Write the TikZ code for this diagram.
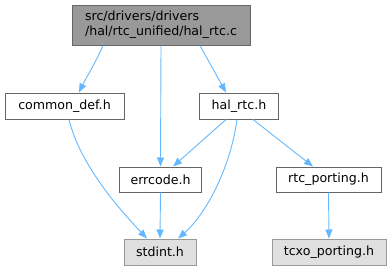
\documentclass[tikz,border=0pt]{standalone}
\usepackage{fontspec}
\setmainfont{DejaVu Sans}
\usetikzlibrary{arrows.meta}
\definecolor{edgec}{HTML}{63B8FF}
\definecolor{bdark}{HTML}{666666}
\definecolor{bgrey}{HTML}{999999}
\definecolor{fgrey}{HTML}{E0E0E0}
\definecolor{ftop}{HTML}{999999}
\begin{document}
\begin{tikzpicture}[x=1pt,y=-1pt,
  box/.style={draw=bdark,line width=1pt,fill=white,inner sep=0pt,font=\fontsize{12.6}{15}\selectfont},
  ext/.style={box,draw=bgrey,fill=fgrey},
  dep/.style={draw=edgec,line width=0.9pt,-{Triangle[length=9pt,width=7pt]}}]
\useasboundingbox (0,0) rectangle (391,271);
\node[box,fill=ftop,minimum width=178pt,minimum height=40pt,align=left] (top) at (161,25) {src/drivers/drivers\\/hal/rtc\_unified/hal\_rtc.c};
\node[box,minimum width=119pt,minimum height=26pt] (common) at (64.5,106) {common\_def.h};
\node[box,minimum width=79pt,minimum height=26pt] (hal) at (239,106) {hal\_rtc.h};
\node[box,minimum width=82pt,minimum height=25pt] (err) at (160.5,179.5) {errcode.h};
\node[box,minimum width=105pt,minimum height=25pt] (rtcp) at (328.5,179.5) {rtc\_porting.h};
\node[ext,minimum width=72pt,minimum height=26pt] (std) at (160,252) {stdint.h};
\node[ext,minimum width=114pt,minimum height=26pt] (tcxo) at (329,252) {tcxo\_porting.h};
\draw[dep] ([xshift=-58pt]top.south) .. controls (97,60) and (86,78) .. ([xshift=14.5pt]common.north);
\draw[dep] (top.south) -- (err.north);
\draw[dep] ([xshift=39pt]top.south) -- ([xshift=-13pt]hal.north);
\draw[dep] ([xshift=-13pt]hal.south) -- ([xshift=12.5pt]err.north);
\draw[dep] ([xshift=-2pt]hal.south) .. controls (230,170) and (205,215) .. ([xshift=18pt]std.north);
\draw[dep] ([xshift=14pt]hal.south) -- ([xshift=-15.5pt]rtcp.north);
\draw[dep] ([xshift=4.5pt]common.south) .. controls (80,165) and (120,210) .. ([xshift=-13pt]std.north);
\draw[dep] (err.south) -- (std.north);
\draw[dep] (rtcp.south) -- (tcxo.north);
\end{tikzpicture}
\end{document}
